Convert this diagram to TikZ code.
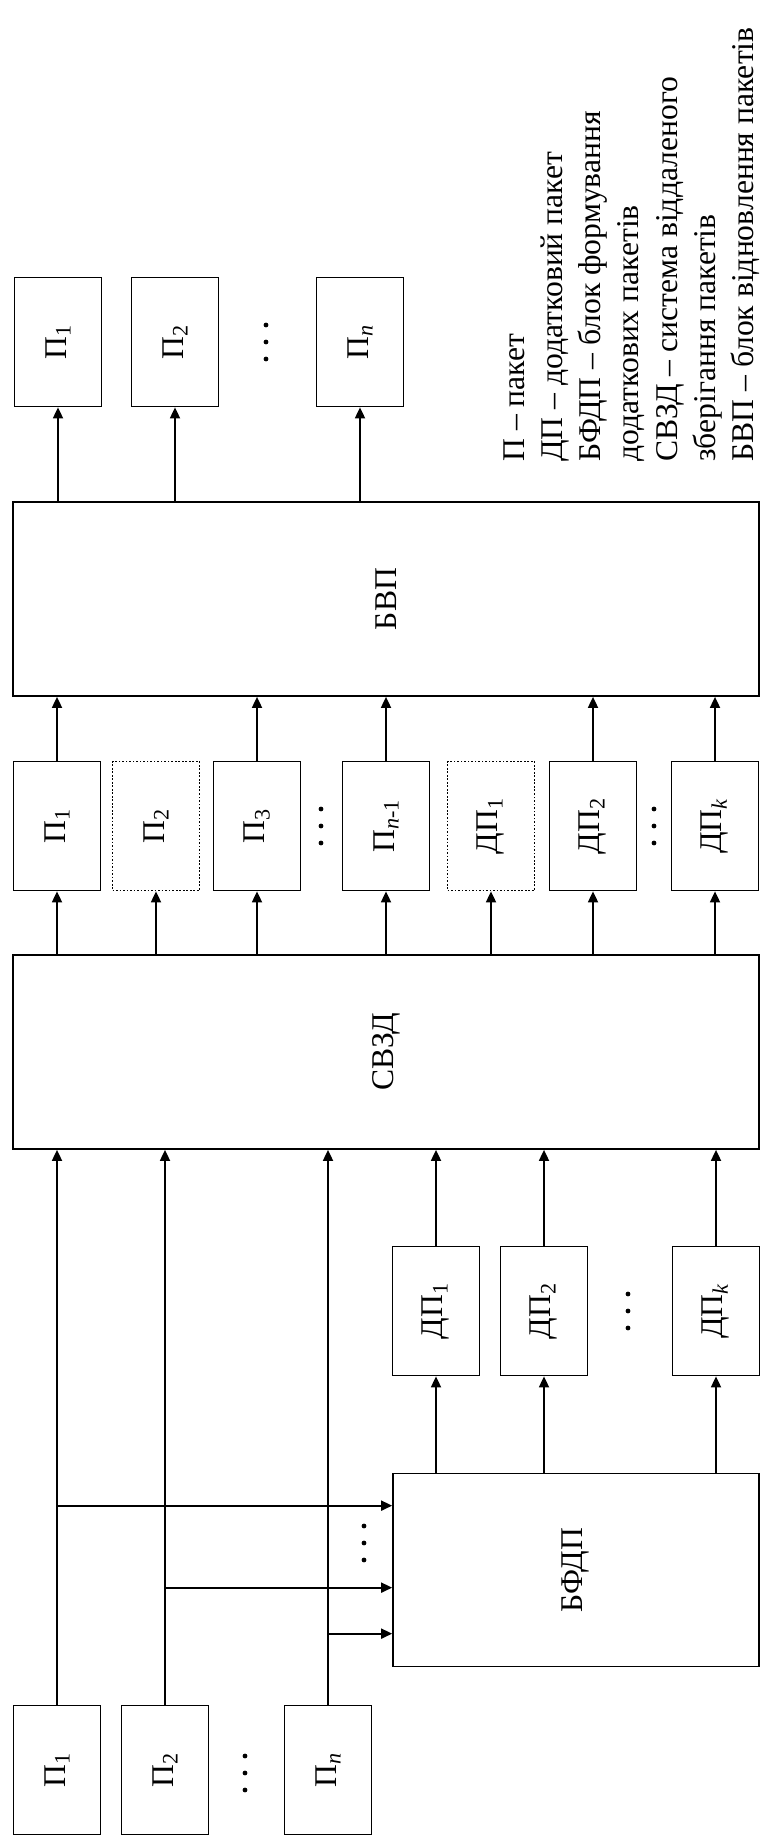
\documentclass[tikz,border=0pt]{standalone}
\usepackage{fontspec}
\setmainfont{Liberation Serif}
\usepackage{graphicx}
\usetikzlibrary{arrows.meta, positioning, calc}

\newcommand{\rot}[1]{\rotatebox{90}{#1}}
\newcommand{\pk}[1]{П\textsubscript{#1}}
\newcommand{\dpk}[1]{ДП\textsubscript{#1}}

\tikzset{
  blk/.style={draw, line width=1pt, minimum width=1.74cm, minimum height=2.58cm, inner sep=0pt, font=\fontsize{18}{22}\selectfont},
  lost/.style={blk, densely dotted},
  big/.style={draw, line width=1pt, minimum width=14.92cm, minimum height=3.88cm, inner sep=0pt, font=\fontsize{18}{22}\selectfont},
  arr/.style={line width=1pt, -{Triangle[length=0.22cm, width=0.2cm]}}
}

\begin{document}
\begin{tikzpicture}[x=0.02cm, y=-0.02cm]
\useasboundingbox (0,0) rectangle (763,1836);

% outputs after recovery
\node[blk] (o1) at (58,342) {\rot{\pk{1}}};
\node[blk] (o2) at (175,342) {\rot{\pk{2}}};
\node[blk] (on) at (360,342) {\rot{\pk{\textit{n}}}};

\node[big] (bvp) at (386,599) {\rot{БВП}};

% packets coming out of storage
\node[blk] (m1) at (57,826) {\rot{\pk{1}}};
\node[lost] (m2) at (156,826) {\rot{\pk{2}}};
\node[blk] (m3) at (257,826) {\rot{\pk{3}}};
\node[blk] (m4) at (386,826) {\rot{\pk{\textit{n}-1}}};
\node[lost] (m5) at (491,826) {\rot{\dpk{1}}};
\node[blk] (m6) at (593,826) {\rot{\dpk{2}}};
\node[blk] (m7) at (715,826) {\rot{\dpk{\textit{k}}}};

\node[big] (svzd) at (386,1052) {\rot{СВЗД}};

% additional packets
\node[blk] (a1) at (436,1311) {\rot{\dpk{1}}};
\node[blk] (a2) at (544,1311) {\rot{\dpk{2}}};
\node[blk] (ak) at (716,1311) {\rot{\dpk{\textit{k}}}};

\node[draw, line width=1pt, minimum width=7.32cm, minimum height=3.86cm, font=\fontsize{18}{22}\selectfont] (bfdp) at (576,1570) {\rot{БФДП}};

% input packets
\node[blk] (i1) at (57,1770) {\rot{\pk{1}}};
\node[blk] (i2) at (165,1770) {\rot{\pk{2}}};
\node[blk] (in) at (328,1770) {\rot{\pk{\textit{n}}}};

% ellipsis dots
\foreach \x/\y in {266/342, 321/826, 654/826, 628/1311, 364/1543, 245/1773}
  \foreach \d in {-17,0,17}
    \fill (\x,\y+\d) circle (2.4);

% legend
\node[rotate=90, anchor=north west, inner sep=0pt, align=left, font=\fontsize{18}{21.8}\selectfont] (leg) at (503,462)
     {П – пакет\\ДП – додатковий пакет\\БФДП – блок формування\\додаткових пакетів\\СВЗД – система віддаленого\\зберігання пакетів\\БВП – блок відновлення пакетів};

\foreach \b in {o1,o2,on}
  \draw[arr] (\b.south |- bvp.north) -- (\b.south);
\foreach \b in {m1,m3,m4,m6,m7}
  \draw[arr] (\b.north) -- (\b.north |- bvp.south);
\foreach \b in {m1,m2,m3,m4,m5,m6,m7}
  \draw[arr] (\b.south |- svzd.north) -- (\b.south);
\foreach \b in {i1,i2,in}
  \draw[arr] (\b.north) -- (\b.north |- svzd.south);
\foreach \b in {a1,a2,ak} {
  \draw[arr] (\b.north) -- (\b.north |- svzd.south);
  \draw[arr] (\b.south |- bfdp.north) -- (\b.south);
}

\coordinate (f1) at ($(bfdp.north west)+(0,33)$);
\coordinate (f2) at ($(bfdp.north west)+(0,115)$);
\coordinate (f3) at ($(bfdp.north west)+(0,161)$);
\draw[arr] (i1.north |- f1) -- (f1);
\draw[arr] (i2.north |- f2) -- (f2);
\draw[arr] (in.north |- f3) -- (f3);
\end{tikzpicture}
\end{document}
